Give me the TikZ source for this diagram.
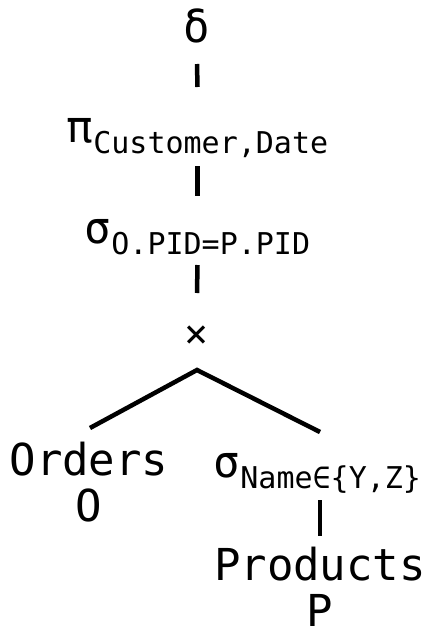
\documentclass[tikz,border=0pt]{standalone}
\usepackage{fontspec}
\newfontfamily\treefont{DejaVu Sans Mono}
\usetikzlibrary{calc}
\newcommand{\opsub}[1]{\raisebox{-11pt}{\fontsize{30}{30}\selectfont #1}}
\tikzset{
  rel/.style={font=\treefont\fontsize{44}{46}\selectfont, inner sep=0pt, anchor=base, align=center},
  edge/.style={line width=4.5pt},
}

\begin{document}
\begin{tikzpicture}[x=1pt,y=-1pt]
\useasboundingbox (0,0) rectangle (427,630);
% operators
\node[rel] (dup) at (197,42) {δ};
\node[rel] (proj) at (197.5,142) {π\opsub{Customer,Date}};
\node[rel] (join) at (197.5,243) {σ\opsub{O.PID=P.PID}};
\node[rel, anchor=center, font=\treefont\fontsize{40}{40}\selectfont] (cross) at (197,337) {×};
% leaves (base is the last line)
\node[rel] (ord) at (89,521) {Orders\\O};
\node[rel] (selp) at (317.5,477) {σ\opsub{Name∈\{Y,Z\}}};
\node[rel, text depth=0pt] (prod) at (320,626) {Products\\P};
% edges
\draw[edge] ($(dup.base)+(0,22)$) -- ($(proj.base)+(0,-55)$);
\draw[edge] ($(proj.base)+(0,24)$) -- ($(join.base)+(0,-47)$);
\draw[edge] ($(join.base)+(0,22)$) -- ($(cross.center)+(0,-44)$);
\draw[edge] ($(ord.base)+(1,-93)$) -- ($(cross.center)+(0,33)$) -- ($(selp.base)+(2.5,-45)$);
\draw[edge] ($(selp.base)+(2.5,23)$) -- ($(prod.base)+(0,-90)$);
\end{tikzpicture}
\end{document}
